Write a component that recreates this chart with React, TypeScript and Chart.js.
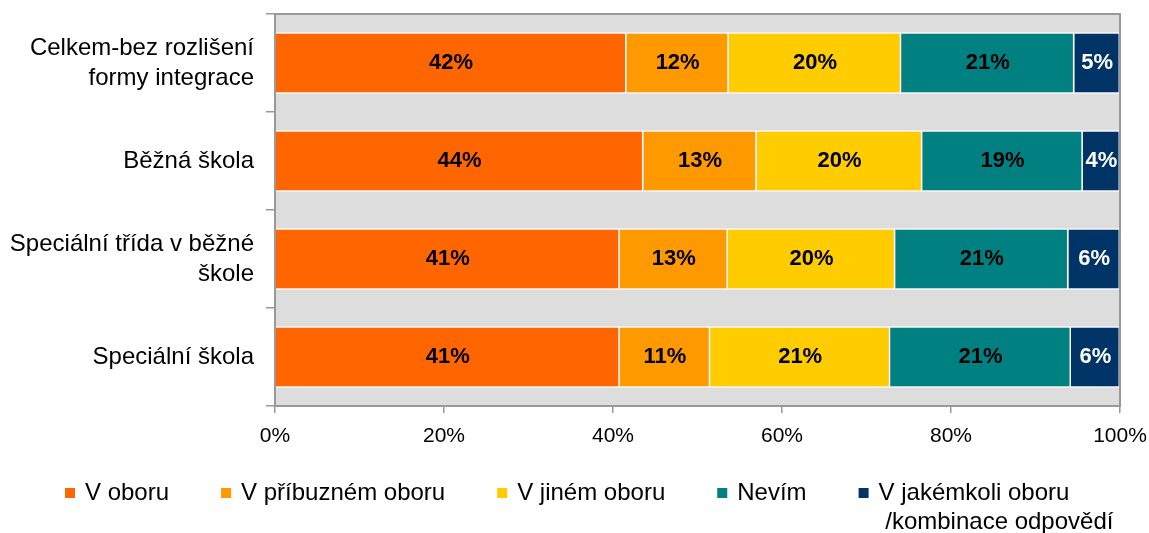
import React, { useEffect, useRef } from "react";
import { Chart, registerables } from "chart.js";

Chart.register(...registerables);

// ---- data ----
const categories: (string | string[])[] = [
  ["Celkem-bez rozlišení", "formy integrace"],
  "Běžná škola",
  ["Speciální třída v běžné", "škole"],
  "Speciální škola",
];
const seriesNames = [
  "V oboru",
  "V příbuzném oboru",
  "V jiném oboru",
  "Nevím",
  "V jakémkoli oboru\n /kombinace odpovědí",
];
const vOboru = [41.6, 43.6, 40.8, 40.8];
const vPribuznemOboru = [12.1, 13.4, 12.8, 10.7];
const vJinemOboru = [20.4, 19.6, 19.8, 21.3];
const nevim = [20.5, 19.0, 20.5, 21.4];
const vJakemkoliOboru = [5.4, 4.4, 6.1, 5.8];
const xTicks = [0, 20, 40, 60, 80, 100];

const colors = ["#FF6600", "#FF9900", "#FFCC00", "#008080", "#003366"];
const labelColors = ["#000000", "#000000", "#000000", "#000000", "#FFFFFF"];
const FONT = "'Liberation Sans', Arial, sans-serif";

const plotBg = {
  id: "plotBg",
  beforeDatasetsDraw(chart: any) {
    const { ctx, chartArea } = chart;
    ctx.save();
    ctx.fillStyle = "#DDDDDD";
    ctx.fillRect(chartArea.left, chartArea.top, chartArea.right - chartArea.left, chartArea.bottom - chartArea.top);
    ctx.restore();
  },
  afterDatasetsDraw(chart: any) {
    const { ctx, chartArea } = chart;
    ctx.save();
    ctx.strokeStyle = "#999999";
    ctx.lineWidth = 2;
    ctx.strokeRect(chartArea.left, chartArea.top, chartArea.right - chartArea.left, chartArea.bottom - chartArea.top);
    ctx.restore();
  },
};

const valueLabels = {
  id: "valueLabels",
  afterDatasetsDraw(chart: any) {
    const { ctx } = chart;
    ctx.save();
    ctx.font = `bold 22px ${FONT}`;
    ctx.textAlign = "center";
    ctx.textBaseline = "middle";
    chart.data.datasets.forEach((ds: any, i: number) => {
      const meta = chart.getDatasetMeta(i);
      meta.data.forEach((bar: any, j: number) => {
        const c = bar.getCenterPoint();
        ctx.fillStyle = labelColors[i];
        ctx.fillText(Math.round(ds.data[j]) + "%", c.x, c.y);
      });
    });
    ctx.restore();
  },
};

const customLegend = {
  id: "customLegend",
  afterDraw(chart: any) {
    const { ctx } = chart;
    ctx.save();
    ctx.font = `24px ${FONT}`;
    ctx.textBaseline = "middle";
    ctx.textAlign = "left";
    let x = 65;
    const y = 493;
    const box = 10;
    const textGap = 10;
    const itemGap = 52;
    chart.data.datasets.forEach((ds: any) => {
      ctx.fillStyle = ds.backgroundColor;
      ctx.fillRect(x, y - box / 2, box, box);
      const lines = String(ds.label).split("\n");
      ctx.fillStyle = "#000000";
      lines.forEach((ln: string, k: number) => {
        ctx.fillText(ln, x + box + textGap, y + k * 29);
      });
      x += box + textGap + ctx.measureText(lines[0]).width + itemGap;
    });
    ctx.restore();
  },
};

export default function App() {
  const ref = useRef<HTMLCanvasElement>(null);
  useEffect(() => {
    if (!ref.current) return;
    const data = [vOboru, vPribuznemOboru, vJinemOboru, nevim, vJakemkoliOboru];
    const chart = new Chart(ref.current, {
      type: "bar",
      data: {
        labels: categories,
        datasets: data.map((d, i) => ({
          label: seriesNames[i],
          data: d,
          backgroundColor: colors[i],
          borderColor: "#FFFFFF",
          borderWidth: 1.5,
          categoryPercentage: 1,
          barPercentage: 0.63,
        })),
      },
      options: {
        indexAxis: "y",
        responsive: false,
        animation: false,
        layout: { padding: { left: 0, right: 29, top: 14, bottom: 77 } },
        plugins: {
          legend: { display: false },
          tooltip: { enabled: false },
        },
        scales: {
          x: {
            stacked: true,
            min: 0,
            max: 100,
            afterBuildTicks(scale: any) {
              scale.ticks = xTicks.map((v) => ({ value: v }));
            },
            afterFit(scale: any) {
              scale.height = 50;
              scale.paddingLeft = 0;
              scale.paddingRight = 0;
            },
            grid: { drawOnChartArea: false, drawTicks: true, tickLength: 7, color: "#999999", lineWidth: 1.5 },
            border: { display: false },
            ticks: {
              padding: 11,
              color: "#000000",
              font: { family: FONT, size: 21 },
              callback: (v: any) => v + "%",
            },
          },
          y: {
            stacked: true,
            afterFit(scale: any) {
              scale.width = 275;
              scale.paddingTop = 0;
              scale.paddingBottom = 0;
            },
            grid: { drawOnChartArea: false, drawTicks: true, tickLength: 9, color: "#999999", lineWidth: 1.5, offset: true },
            border: { display: false },
            ticks: {
              padding: 12,
              color: "#000000",
              font: { family: FONT, size: 24, lineHeight: 1.25 },
            },
          },
        },
      },
      plugins: [plotBg, valueLabels, customLegend],
    });
    return () => chart.destroy();
  }, []);
  return (
    <div style={{ position: "absolute", left: 0, top: 0, width: 1149, height: 533 }}>
      <canvas ref={ref} width={1149} height={533} style={{ display: "block" }} />
    </div>
  );
}
